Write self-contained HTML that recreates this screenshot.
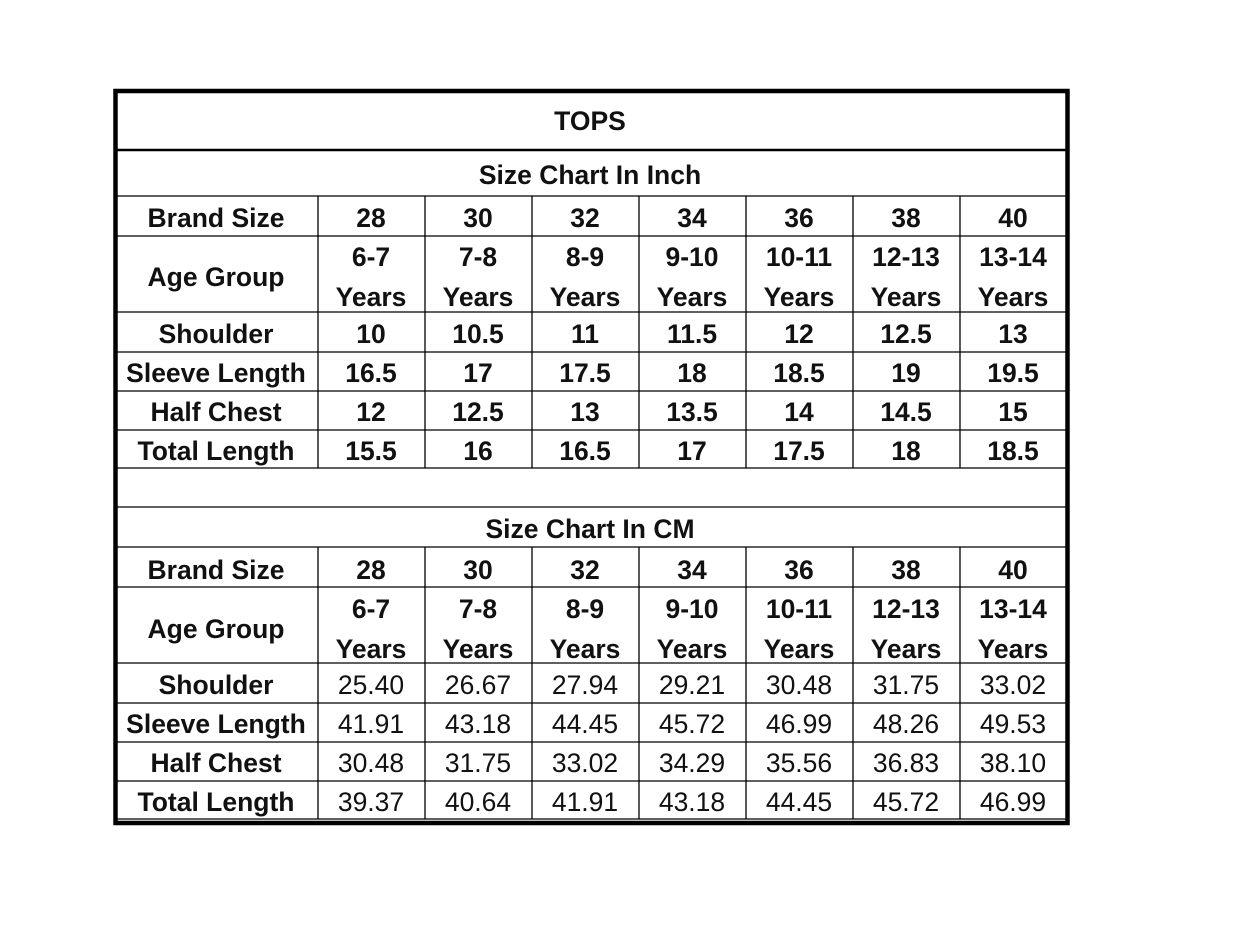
<!DOCTYPE html>
<html><head><meta charset="utf-8"><style>
html,body{margin:0;padding:0;background:#fff;width:1240px;height:926px;overflow:hidden}
svg{display:block}
text{font-family:"Liberation Sans",Arial,sans-serif;font-size:26.5px;fill:#111;text-anchor:middle}
.b{font-weight:bold}
</style></head><body>
<svg width="1240" height="926" viewBox="0 0 1240 926">
<g stroke="#000" stroke-width="1.3" fill="none">
<line x1="116" y1="150" x2="1068" y2="150" stroke-width="2.5"/>
<line x1="116" y1="196" x2="1068" y2="196"/>
<line x1="116" y1="236" x2="1068" y2="236"/>
<line x1="116" y1="312" x2="1068" y2="312"/>
<line x1="116" y1="352" x2="1068" y2="352"/>
<line x1="116" y1="391" x2="1068" y2="391"/>
<line x1="116" y1="430" x2="1068" y2="430"/>
<line x1="116" y1="468" x2="1068" y2="468"/>
<line x1="116" y1="507" x2="1068" y2="507"/>
<line x1="116" y1="547" x2="1068" y2="547"/>
<line x1="116" y1="587" x2="1068" y2="587"/>
<line x1="116" y1="663" x2="1068" y2="663"/>
<line x1="116" y1="703" x2="1068" y2="703"/>
<line x1="116" y1="742" x2="1068" y2="742"/>
<line x1="116" y1="781" x2="1068" y2="781"/>
<line x1="116" y1="819" x2="1068" y2="819"/>
<path d="M318 196V468M425 196V468M532 196V468M639 196V468M746 196V468M853 196V468M960 196V468"/>
<path d="M318 547V819M425 547V819M532 547V819M639 547V819M746 547V819M853 547V819M960 547V819"/>
<rect x="115.5" y="91" width="952" height="732" stroke-width="4.5"/>
</g>
<text class="b" x="590" y="130">TOPS</text>
<text class="b" x="590" y="184">Size Chart In Inch</text>
<text class="b" x="590" y="538">Size Chart In CM</text>
<g class="b">
<text x="216" y="227">Brand Size</text><text x="216" y="286">Age Group</text>
<text x="216" y="343">Shoulder</text><text x="216" y="382">Sleeve Length</text>
<text x="216" y="421">Half Chest</text><text x="216" y="460">Total Length</text>
<text x="216" y="579">Brand Size</text><text x="216" y="638">Age Group</text>
<text x="216" y="694">Shoulder</text><text x="216" y="733">Sleeve Length</text>
<text x="216" y="772">Half Chest</text><text x="216" y="811">Total Length</text>
</g>
<g class="b">
<text x="371" y="227">28</text><text x="478" y="227">30</text><text x="585" y="227">32</text><text x="692" y="227">34</text><text x="799" y="227">36</text><text x="906" y="227">38</text><text x="1013" y="227">40</text>
<text x="371" y="266">6-7</text><text x="478" y="266">7-8</text><text x="585" y="266">8-9</text><text x="692" y="266">9-10</text><text x="799" y="266">10-11</text><text x="906" y="266">12-13</text><text x="1013" y="266">13-14</text>
<text x="371" y="306">Years</text><text x="478" y="306">Years</text><text x="585" y="306">Years</text><text x="692" y="306">Years</text><text x="799" y="306">Years</text><text x="906" y="306">Years</text><text x="1013" y="306">Years</text>
<text x="371" y="343">10</text><text x="478" y="343">10.5</text><text x="585" y="343">11</text><text x="692" y="343">11.5</text><text x="799" y="343">12</text><text x="906" y="343">12.5</text><text x="1013" y="343">13</text>
<text x="371" y="382">16.5</text><text x="478" y="382">17</text><text x="585" y="382">17.5</text><text x="692" y="382">18</text><text x="799" y="382">18.5</text><text x="906" y="382">19</text><text x="1013" y="382">19.5</text>
<text x="371" y="421">12</text><text x="478" y="421">12.5</text><text x="585" y="421">13</text><text x="692" y="421">13.5</text><text x="799" y="421">14</text><text x="906" y="421">14.5</text><text x="1013" y="421">15</text>
<text x="371" y="460">15.5</text><text x="478" y="460">16</text><text x="585" y="460">16.5</text><text x="692" y="460">17</text><text x="799" y="460">17.5</text><text x="906" y="460">18</text><text x="1013" y="460">18.5</text>
<text x="371" y="579">28</text><text x="478" y="579">30</text><text x="585" y="579">32</text><text x="692" y="579">34</text><text x="799" y="579">36</text><text x="906" y="579">38</text><text x="1013" y="579">40</text>
<text x="371" y="618">6-7</text><text x="478" y="618">7-8</text><text x="585" y="618">8-9</text><text x="692" y="618">9-10</text><text x="799" y="618">10-11</text><text x="906" y="618">12-13</text><text x="1013" y="618">13-14</text>
<text x="371" y="658">Years</text><text x="478" y="658">Years</text><text x="585" y="658">Years</text><text x="692" y="658">Years</text><text x="799" y="658">Years</text><text x="906" y="658">Years</text><text x="1013" y="658">Years</text>
</g>
<g>
<text x="371" y="694">25.40</text><text x="478" y="694">26.67</text><text x="585" y="694">27.94</text><text x="692" y="694">29.21</text><text x="799" y="694">30.48</text><text x="906" y="694">31.75</text><text x="1013" y="694">33.02</text>
<text x="371" y="733">41.91</text><text x="478" y="733">43.18</text><text x="585" y="733">44.45</text><text x="692" y="733">45.72</text><text x="799" y="733">46.99</text><text x="906" y="733">48.26</text><text x="1013" y="733">49.53</text>
<text x="371" y="772">30.48</text><text x="478" y="772">31.75</text><text x="585" y="772">33.02</text><text x="692" y="772">34.29</text><text x="799" y="772">35.56</text><text x="906" y="772">36.83</text><text x="1013" y="772">38.10</text>
<text x="371" y="811">39.37</text><text x="478" y="811">40.64</text><text x="585" y="811">41.91</text><text x="692" y="811">43.18</text><text x="799" y="811">44.45</text><text x="906" y="811">45.72</text><text x="1013" y="811">46.99</text>
</g>
</svg>
</body></html>
